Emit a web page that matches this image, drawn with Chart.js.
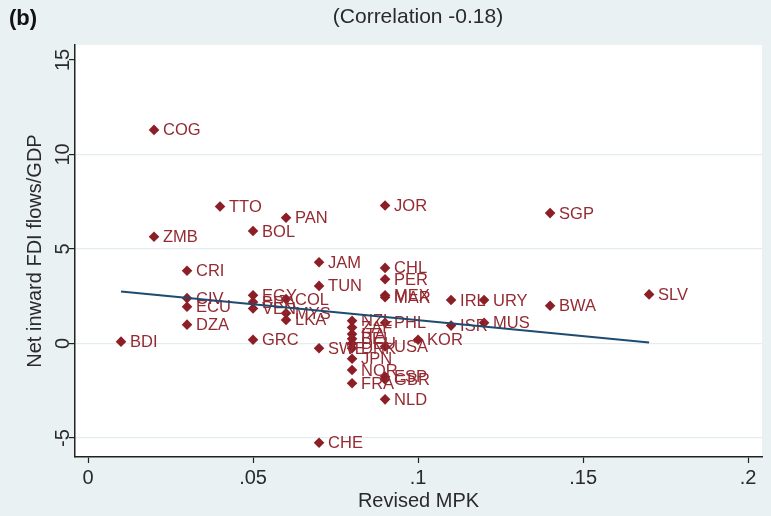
<!DOCTYPE html>
<html>
<head>
<meta charset="utf-8">
<script src="https://cdn.jsdelivr.net/npm/chart.js@4.4.0/dist/chart.umd.min.js"></script>
<style>
  body { margin: 0; background: #eaf1f2; }
  #wrap { width: 771px; height: 516px; }
</style>
</head>
<body>
<div id="wrap"><canvas id="myChart" width="771" height="516"></canvas></div>
<script>
// country codes with revised MPK (x) and net inward FDI flows/GDP (y)
var codes = ['COG','TTO','PAN','JOR','SGP','ZMB','BOL','CRI','JAM','CHL','PER','TUN',
  'MEX','MAR','IRL','URY','BWA','SLV','CIV','ECU','DZA','EGY','BRA','VEN','COL','MYS',
  'LKA','BDI','GRC','SWE','CHE','NZL','ZAF','ITA','BEL','DEU','DNK','JPN','NOR','FRA',
  'PHL','USA','ESP','GBR','NLD','KOR','ISR','MUS'];
var mpk = [0.02,0.04,0.06,0.09,0.14,0.02,0.05,0.03,0.07,0.09,0.09,0.07,
  0.09,0.09,0.11,0.12,0.14,0.17,0.03,0.03,0.03,0.05,0.05,0.05,0.06,0.06,
  0.06,0.01,0.05,0.07,0.07,0.08,0.08,0.08,0.08,0.08,0.08,0.08,0.08,0.08,
  0.09,0.09,0.09,0.09,0.09,0.10,0.11,0.12];
var fdi = [11.3,7.25,6.65,7.3,6.9,5.65,5.95,3.85,4.3,4.0,3.4,3.05,
  2.55,2.45,2.3,2.3,2.0,2.6,2.4,1.95,1.0,2.55,2.2,1.85,2.35,1.6,
  1.25,0.1,0.2,-0.25,-5.25,1.2,0.85,0.5,0.25,0.0,-0.25,-0.8,-1.4,-2.1,
  1.1,-0.15,-1.75,-1.9,-2.95,0.2,0.95,1.1];

// fitted line end points
var fitX = [0.01, 0.17];
var fitY = [2.75, 0.05];

var xTicks = [0, 0.05, 0.1, 0.15, 0.2];
var xTickLabels = ['0', '.05', '.1', '.15', '.2'];
var yTicks = [-5, 0, 5, 10, 15];
var yTickLabels = ['-5', '0', '5', '10', '15'];

var red = 'rgb(140,30,38)';
var labelRed = 'rgb(148,42,50)';
var navy = 'rgb(30,75,112)';
var bg = '#eaf1f2';
var font = '"Liberation Sans", Arial, sans-serif';

var points = codes.map(function (c, i) { return { x: mpk[i], y: fdi[i] }; });
var fit = fitX.map(function (x, i) { return { x: x, y: fitY[i] }; });

var stataLook = {
  id: 'stataLook',
  beforeDraw: function (chart) {
    var c = chart.ctx, a = chart.chartArea;
    c.save();
    c.fillStyle = bg;
    c.fillRect(0, 0, chart.width, chart.height);
    c.fillStyle = '#ffffff';
    c.fillRect(a.left, a.top, a.right - a.left, a.bottom - a.top);
    c.restore();
  },
  afterDatasetDraw: function (chart, args) {
    if (args.index !== 1) return;
    var c = chart.ctx;
    c.save();
    c.font = '16.5px ' + font;
    c.fillStyle = labelRed;
    c.textBaseline = 'middle';
    c.textAlign = 'left';
    args.meta.data.forEach(function (el, i) {
      c.fillText(codes[i], el.x + 9, el.y + 1);
    });
    c.restore();
  },
  afterDraw: function (chart) {
    var c = chart.ctx, a = chart.chartArea, ys = chart.scales.y;
    c.save();
    c.fillStyle = '#2a2a2a';
    c.textBaseline = 'middle';
    c.textAlign = 'center';
    // y tick labels, turned like Stata does
    c.font = '20px ' + font;
    yTicks.forEach(function (v, i) {
      c.save();
      c.translate(63, ys.getPixelForValue(v));
      c.rotate(-Math.PI / 2);
      c.fillText(yTickLabels[i], 0, 0);
      c.restore();
    });
    // y axis title
    c.save();
    c.translate(35, (a.top + a.bottom) / 2);
    c.rotate(-Math.PI / 2);
    c.fillText('Net inward FDI flows/GDP', 0, 0);
    c.restore();
    // x axis title
    c.fillText('Revised MPK', (a.left + a.right) / 2, 501);
    // heading
    c.font = '21px ' + font;
    c.fillText('(Correlation -0.18)', 418, 17);
    c.textAlign = 'left';
    c.font = 'bold 22px ' + font;
    c.fillStyle = '#111';
    c.fillText('(b)', 9, 19);
    c.restore();
  }
};

var ctx = document.getElementById('myChart').getContext('2d');
var chart = new Chart(ctx, {
  type: 'scatter',
  data: {
    datasets: [{
      type: 'line',
      data: fit,
      borderColor: navy,
      borderWidth: 2,
      pointRadius: 0,
      fill: false
    }, {
      data: points,
      pointStyle: 'rectRot',
      pointRadius: 5.3,
      backgroundColor: red,
      borderColor: red,
      borderWidth: 0
    }]
  },
  plugins: [stataLook],
  options: {
    responsive: false,
    animation: false,
    layout: { padding: { left: 0, right: 9, top: 45, bottom: 0 } },
    plugins: {
      legend: { display: false },
      tooltip: { enabled: false }
    },
    scales: {
      x: {
        type: 'linear',
        min: -0.00394,
        max: 0.2042,
        afterFit: function (s) { s.height = 59; },
        afterBuildTicks: function (s) { s.ticks = xTicks.map(function (v) { return { value: v }; }); },
        ticks: {
          padding: 3,
          color: '#2a2a2a',
          font: { family: font, size: 20 },
          callback: function (v) {
            var i = xTicks.indexOf(v);
            return i >= 0 ? xTickLabels[i] : '';
          }
        },
        grid: { drawOnChartArea: false, tickColor: '#222', tickLength: 6, tickWidth: 1.2 },
        border: { color: '#222', width: 1.5 }
      },
      y: {
        type: 'linear',
        min: -6.0,
        max: 15.79,
        afterFit: function (s) { s.width = 75; },
        afterBuildTicks: function (s) { s.ticks = yTicks.map(function (v) { return { value: v }; }); },
        ticks: { color: 'rgba(0,0,0,0)', font: { family: font, size: 16 } },
        grid: {
          color: function (ctx) { return ctx.tick && ctx.tick.value === 15 ? 'rgba(0,0,0,0)' : '#e3ecee'; },
          lineWidth: 1.2,
          tickColor: '#222',
          tickLength: 6,
          tickWidth: 1.2
        },
        border: { color: '#222', width: 1.5 }
      }
    }
  }
});
</script>
</body>
</html>
